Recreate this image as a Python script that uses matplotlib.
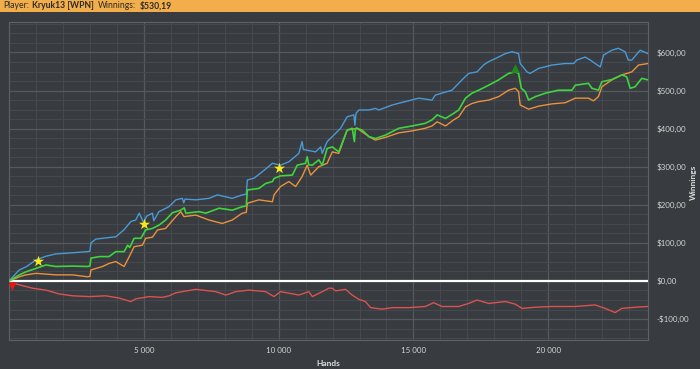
import matplotlib
matplotlib.use("Agg")
import matplotlib.pyplot as plt
from matplotlib.ticker import MultipleLocator, FuncFormatter
from matplotlib.patches import Rectangle

# ---------------- data ----------------
blue_hands = [0, 380, 630, 1000, 1370, 1740, 2360, 2910, 3000, 3040, 3220, 3590, 3960, 4260, 4520, 4700,
              4830, 4950, 5000, 5100, 5320, 5370, 5560, 5930, 6190, 6430, 6480, 6530, 6930, 7420, 7730,
              8280, 8650, 8800, 8840, 9090, 9400, 9770, 10070, 10380, 10750, 10870, 10920, 11000, 11370,
              11560, 11620, 11800, 11990, 12300, 12540, 12790, 12830, 12870, 12980, 13350, 13590, 13720,
              14210, 14700, 15200, 15690, 15810, 16430, 16800, 17050, 17360, 17600, 17790, 18040, 18410,
              18660, 18900, 18960, 19210, 19330, 19640, 20140, 20630, 20940, 21060, 21370, 21560, 21740,
              21930, 22050, 22360, 22600, 22850, 22970, 23100, 23410, 23700]
blue_vals = [0, 29, 37, 55, 65, 71, 74, 77, 78, 100, 110, 113, 116, 134, 156, 160,
             178, 160, 152, 170, 178, 158, 182, 195, 213, 217, 205, 215, 213, 217, 226,
             217, 226, 228, 265, 270, 287, 309, 304, 313, 335, 366, 345, 344, 339,
             352, 335, 366, 379, 401, 431, 436, 409, 440, 449, 449, 453, 449,
             462, 471, 480, 475, 488, 501, 528, 545, 549, 567, 576, 584, 597,
             602, 597, 571, 549, 545, 558, 567, 571, 571, 580, 588, 580, 571,
             562, 593, 606, 611, 602, 580, 580, 606, 597]

green_hands = [0, 380, 630, 1000, 1370, 1740, 2360, 2910, 3000, 3040, 3350, 3710, 3960, 4270, 4400, 4480,
               4640, 4890, 5070, 5320, 5570, 5810, 6060, 6370, 6500, 6560, 7050, 7300, 7790, 8280, 8650,
               8800, 8840, 9270, 9520, 9770, 9830, 10070, 10510, 10690, 11000, 11060, 11120, 11250, 11490,
               11620, 11800, 11990, 12230, 12540, 12730, 12810, 12850, 12910, 13100, 13350, 13590, 13960,
               14460, 14950, 15440, 15690, 15880, 16190, 16490, 16680, 16930, 17170, 17420, 17790, 18160,
               18530, 18780, 18900, 19000, 19150, 19270, 19520, 19890, 20380, 20880, 21000, 21490, 21620,
               21860, 21990, 22360, 22730, 22910, 23040, 23220, 23470, 23700]
green_vals = [0, 16, 24, 33, 42, 38, 39, 38, 39, 60, 64, 64, 77, 77, 94, 88,
              112, 112, 134, 138, 147, 160, 179, 186, 192, 178, 182, 178, 191, 186, 195,
              197, 239, 243, 256, 261, 269, 276, 278, 304, 309, 326, 305, 304, 318,
              304, 348, 352, 339, 396, 401, 366, 400, 401, 396, 379, 374, 383,
              401, 407, 414, 423, 436, 427, 440, 449, 480, 493, 501, 514, 528,
              545, 549, 545, 506, 497, 475, 484, 493, 501, 501, 514, 519, 506,
              501, 523, 529, 541, 536, 506, 510, 532, 528]

orange_hands = [0, 380, 630, 1000, 1740, 2360, 2910, 3000, 3040, 3470, 3710, 3960, 4270, 4460, 4640, 4950,
                5070, 5320, 5510, 5810, 6190, 6370, 6490, 6930, 7420, 7910, 8280, 8650, 8800, 8840, 9270,
                9770, 9830, 10070, 10380, 10630, 10870, 11060, 11190, 11490, 11800, 11990, 12230, 12540,
                12910, 13350, 13590, 13960, 14460, 14950, 15440, 15690, 15880, 16190, 16490, 16680, 16930,
                17170, 17420, 17790, 18160, 18530, 18780, 18900, 18960, 19270, 19640, 20140, 20630, 21000,
                21490, 21680, 21860, 21990, 22360, 22730, 23100, 23350, 23700]
orange_vals = [0, 11, 16, 20, 16, 16, 11, 12, 29, 38, 46, 51, 38, 64, 90, 94,
               112, 115, 134, 138, 169, 182, 169, 173, 160, 151, 160, 178, 180, 204, 213,
               208, 226, 248, 261, 248, 274, 304, 278, 300, 309, 339, 335, 396,
               401, 379, 370, 377, 389, 394, 401, 407, 418, 407, 423, 431, 457,
               466, 471, 475, 484, 501, 506, 497, 462, 451, 459, 465, 468, 480,
               480, 473, 484, 510, 528, 541, 549, 567, 571]

red_hands = [0, 380, 870, 1370, 1860, 2360, 2980, 3590, 4090, 4520, 4700, 5200, 5690, 5940, 6190, 6930,
             7670, 8040, 8410, 8900, 9520, 9830, 10070, 10750, 11120, 11250, 11620, 11860, 11990, 12110,
             12480, 12730, 12970, 13220, 13410, 13840, 14210, 14830, 15440, 15750, 16060, 16680, 17050,
             17360, 17790, 18040, 18410, 18780, 19030, 19520, 20140, 21000, 21740, 22110, 22480, 22730,
             23220, 23700]
red_vals = [-4, -10, -19, -24, -34, -39, -41, -39, -45, -54, -47, -41, -43, -39, -31, -22,
            -28, -37, -28, -24, -28, -41, -28, -37, -28, -41, -28, -19, -19, -26,
            -22, -37, -48, -54, -70, -74, -70, -70, -67, -57, -67, -67, -59,
            -50, -59, -57, -54, -61, -72, -69, -67, -67, -63, -72, -83, -72,
            -69, -67]

star_hands = [1070, 5000, 10000]
star_vals = [52, 150, 297]
peak_hands = [18780]
peak_vals = [559]
low_hands = [110]
low_vals = [-13]

y_ticks = [-100, 0, 100, 200, 300, 400, 500, 600]
x_ticks = [5000, 10000, 15000, 20000]
header_parts = [("Player:", "normal"), ("Kryuk13 [WPN]", "bold"), ("Winnings:", "normal"), ("$530,19", "bold")]

# ---------------- style ----------------
BG = "#383b3f"
W, H = 700, 369
fig = plt.figure(figsize=(W / 100, H / 100), dpi=100, facecolor=BG)
plt.rcParams["font.family"] = ["Lato", "DejaVu Sans"]

ax = fig.add_axes([9 / W, 1 - 340 / H, (648 - 9) / W, (340 - 22) / H])

# header bar (drawn beneath everything else)
hdr_h = 12 / H
fig.patches.append(Rectangle((0, 1 - hdr_h), 1, hdr_h, transform=fig.transFigure,
                             facecolor="#f2ae4a", edgecolor="none", zorder=-5))
prev = None
for txt, wt in header_parts:
    if prev is None:
        prev = ax.annotate(txt, xy=(3 / W, 1 - 6 / H), xycoords="figure fraction",
                           fontsize=6.2, fontweight=wt, color="#2a2a2a", va="center", ha="left",
                           annotation_clip=False, clip_on=False)
    else:
        prev = ax.annotate(txt, xy=(1, 0.5), xycoords=prev, xytext=(2.5, 0), textcoords="offset points",
                           fontsize=6.2, fontweight=wt, color="#2a2a2a", va="center", ha="left",
                           annotation_clip=False, clip_on=False)

ax.set_facecolor(BG)
for s in ax.spines.values():
    s.set_color("#5e6165")
    s.set_linewidth(0.8)

ax.set_xlim(0, 23700)
ax.set_ylim(-155, 680)

ax.xaxis.set_minor_locator(MultipleLocator(1000))
ax.yaxis.set_minor_locator(MultipleLocator(25))
ax.set_xticks(x_ticks)
ax.set_yticks(y_ticks)

ax.grid(which="minor", color="#46494d", linewidth=0.7)
ax.grid(which="major", color="#56595d", linewidth=0.9)
ax.set_axisbelow(True)

ax.xaxis.set_major_formatter(FuncFormatter(lambda v, p: f"{int(v):,}".replace(",", " ")))


def yfmt(v, p):
    v = int(round(v))
    return f"-${abs(v)},00" if v < 0 else f"${v},00"


ax.yaxis.set_major_formatter(FuncFormatter(yfmt))
ax.yaxis.tick_right()
ax.tick_params(axis="both", which="both", length=0, colors="#d4d4d4", labelsize=5.8)
ax.tick_params(axis="y", pad=6)
ax.tick_params(axis="x", pad=5)

ax.axhline(0, color="white", linewidth=1.6, zorder=3)

lw = 1.0
ax.plot(red_hands, red_vals, color="#d9534f", linewidth=lw, zorder=4)
ax.plot(orange_hands, orange_vals, color="#ea923c", linewidth=lw, zorder=4)
ax.plot(blue_hands, blue_vals, color="#4a9ad6", linewidth=lw, zorder=5)
ax.plot(green_hands, green_vals, color="#3ed43e", linewidth=lw + 0.2, zorder=6)

ax.scatter(star_hands, star_vals, marker="*", s=70, color="#f8ea1a", zorder=8, linewidths=0)
ax.scatter(peak_hands, peak_vals, marker="^", s=40, color="#1f8a1f", zorder=8, linewidths=0)
ax.scatter(low_hands, low_vals, marker="v", s=40, color="#e01818", zorder=8, linewidths=0)

fig.text(328 / W, 1 - 363 / H, "Hands", fontsize=6.0, fontweight="bold", color="#e0e0e0",
         ha="center", va="center")
fig.text(693 / W, 1 - 182 / H, "Winnings", fontsize=6.0, fontweight="bold", color="#e0e0e0",
         ha="center", va="center", rotation=90)

fig.savefig("out.png", dpi=100, facecolor=BG)
